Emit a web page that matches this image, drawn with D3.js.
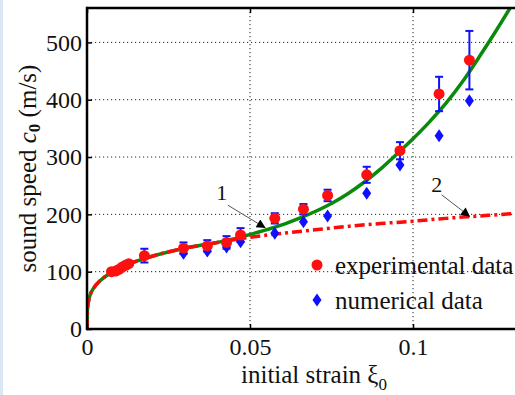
<!DOCTYPE html>
<html>
<head>
<meta charset="utf-8">
<script src="https://cdn.jsdelivr.net/npm/d3@7"></script>
<style>
  html, body { margin: 0; padding: 0; background: #fff; }
  svg { display: block; }
  text { font-family: "Liberation Serif", "Times New Roman", serif; fill: #111; }
</style>
</head>
<body>
<script>
// ---------------- data ----------------
const xTicks = [0, 0.05, 0.1];
const xTickLabels = ["0", "0.05", "0.1"];
const yTicks = [0, 100, 200, 300, 400, 500];
const yTickLabels = ["0", "100", "200", "300", "400", "500"];

// curve 2 (red dash-dot)
const model2X = [0, 0.0001, 0.0003, 0.0006, 0.001, 0.002, 0.004, 0.007, 0.01, 0.015, 0.02, 0.03, 0.04, 0.05, 0.06, 0.07, 0.08, 0.09, 0.10, 0.11, 0.12, 0.13, 0.14, 0.15];
const model2Y = [0, 30, 43, 52, 60, 71, 84, 97, 107, 118, 127, 141, 151, 160, 167, 173, 179, 184, 188, 193, 197, 201, 204, 207];

// curve 1 (green solid)
const model1X = [0, 0.0001, 0.0003, 0.0006, 0.001, 0.002, 0.004, 0.007, 0.01, 0.015, 0.02, 0.03, 0.04, 0.045, 0.05, 0.055, 0.06, 0.065, 0.07, 0.075, 0.08, 0.085, 0.09, 0.095, 0.10, 0.105, 0.11, 0.115, 0.12, 0.125, 0.13, 0.135];
const model1Y = [0, 30, 43, 52, 60, 71, 84, 97, 107, 118, 127, 141, 151, 157, 165, 173, 182, 193, 205, 219, 236, 256, 279, 305, 332, 361, 393, 430, 472, 516, 562, 610];

// experimental data (red circles, blue error bars)
const expX = [0.0075, 0.0088, 0.0098, 0.0108, 0.0118, 0.0128, 0.0176, 0.0296, 0.0369, 0.0428, 0.0471, 0.0576, 0.0664, 0.0738, 0.0858, 0.096, 0.108, 0.1173];
const expY = [100, 101, 104, 108, 111, 114, 128, 141, 145, 151, 164, 193, 209, 233, 269, 311, 410, 469];
const expErr = [0, 0, 0, 0, 0, 0, 12, 10, 10, 11, 12, 9, 9, 10, 14, 15, 30, 51];

// numerical data (blue diamonds)
const numX = [0.0296, 0.0369, 0.0428, 0.0471, 0.0576, 0.0664, 0.0738, 0.0858, 0.096, 0.108, 0.1173];
const numY = [132, 136, 143, 152, 167, 187, 197, 237, 286, 337, 398];

// annotations: label position and arrow (from -> to), data coordinates
const annLabels = ["1", "2"];
const annTextX = [0.0413, 0.1073];
const annTextY = [225, 239];
const annFromX = [0.0432, 0.1088];
const annFromY = [216, 234];
const annToX = [0.0548, 0.1175];
const annToY = [176, 196];

const legendLabels = ["experimental data", "numerical data"];

// ---------------- layout ----------------
const W = 515, H = 395;
const L = 87, T = 8, B = 329;

const x = d3.scaleLinear().domain([0, 0.15]).range([L, L + 0.15 * 3260]);
const y = d3.scaleLinear().domain([0, 560]).range([B, T]);
const R = x(0.15);

const svg = d3.select("body").append("svg").attr("width", W).attr("height", H);

svg.append("rect").attr("x", 0).attr("y", 0).attr("width", W).attr("height", H).attr("fill", "#fff");
svg.append("rect").attr("x", 0).attr("y", 0).attr("width", 3).attr("height", H).attr("fill", "#dce7f5");

svg.append("defs").append("clipPath").attr("id", "clip")
  .append("rect").attr("x", L).attr("y", T).attr("width", R - L).attr("height", B - T);

const defs = svg.select("defs");
defs.append("marker").attr("id", "arrow").attr("viewBox", "0 0 10 10")
  .attr("refX", 10).attr("refY", 5).attr("markerWidth", 12).attr("markerHeight", 9)
  .attr("markerUnits", "userSpaceOnUse").attr("orient", "auto")
  .append("path").attr("d", "M0,0 L10,5 L0,10 z").attr("fill", "#000");

// grid
const grid = svg.append("g");
grid.selectAll("line.h").data(yTicks.filter(d => d > 0)).enter().append("line")
  .attr("x1", L).attr("x2", R).attr("y1", d => y(d)).attr("y2", d => y(d))
  .attr("stroke", "#222").attr("stroke-width", 1).attr("stroke-dasharray", "1.2,2.8");
grid.selectAll("line.v").data(xTicks.filter(d => d > 0)).enter().append("line")
  .attr("x1", d => x(d)).attr("x2", d => x(d)).attr("y1", T).attr("y2", B)
  .attr("stroke", "#222").attr("stroke-width", 1).attr("stroke-dasharray", "1.2,2.8");

// curves
const plot = svg.append("g").attr("clip-path", "url(#clip)");
const line = d3.line().x(d => x(d[0])).y(d => y(d[1])).curve(d3.curveMonotoneX);
plot.append("path").datum(model1X.map((v, i) => [v, model1Y[i]]))
  .attr("d", line).attr("fill", "none").attr("stroke", "#0a8a0a").attr("stroke-width", 3.5);
plot.append("path").datum(model2X.map((v, i) => [v, model2Y[i]]))
  .attr("d", line).attr("fill", "none").attr("stroke", "#ff0a0a").attr("stroke-width", 3.5)
  .attr("stroke-dasharray", "10,4,3,4");

// error bars
const eb = plot.append("g").attr("stroke", "#1010ff").attr("stroke-width", 2);
expX.forEach((v, i) => {
  if (!expErr[i]) return;
  const cx = x(v), y1 = y(expY[i] + expErr[i]), y2 = y(expY[i] - expErr[i]);
  eb.append("line").attr("x1", cx).attr("x2", cx).attr("y1", y1).attr("y2", y2);
  eb.append("line").attr("x1", cx - 4).attr("x2", cx + 4).attr("y1", y1).attr("y2", y1);
  eb.append("line").attr("x1", cx - 4).attr("x2", cx + 4).attr("y1", y2).attr("y2", y2);
});

// diamonds
const diamond = (cx, cy) => `M${cx},${cy - 6.5} L${cx + 4.5},${cy} L${cx},${cy + 6.5} L${cx - 4.5},${cy} Z`;
plot.selectAll("path.num").data(numX.map((v, i) => [v, numY[i]])).enter().append("path")
  .attr("d", d => diamond(x(d[0]), y(d[1]))).attr("fill", "#1010ff");

// circles
plot.selectAll("circle.exp").data(expX.map((v, i) => [v, expY[i]])).enter().append("circle")
  .attr("cx", d => x(d[0])).attr("cy", d => y(d[1])).attr("r", 5.5).attr("fill", "#ff1010");

// annotations
annLabels.forEach((lab, i) => {
  svg.append("line").attr("x1", x(annFromX[i])).attr("y1", y(annFromY[i]))
    .attr("x2", x(annToX[i])).attr("y2", y(annToY[i]))
    .attr("stroke", "#555").attr("stroke-width", 1).attr("marker-end", "url(#arrow)");
  svg.append("text").attr("x", x(annTextX[i])).attr("y", y(annTextY[i]))
    .attr("text-anchor", "middle").attr("font-size", 22).text(lab);
});

// axes frame
const frame = svg.append("g").attr("stroke", "#000").attr("stroke-width", 2.5);
frame.append("line").attr("x1", L).attr("x2", R).attr("y1", B).attr("y2", B);
frame.append("line").attr("x1", L).attr("x2", R).attr("y1", T).attr("y2", T);
frame.append("line").attr("x1", L).attr("x2", L).attr("y1", T - 1.25).attr("y2", B + 1.25);

const xAxis = svg.append("g").attr("transform", `translate(0,${B})`)
  .call(d3.axisBottom(x).tickValues(xTicks).tickFormat((d, i) => xTickLabels[i]).tickSize(-5).tickPadding(9));
const xTop = svg.append("g").attr("transform", `translate(0,${T})`)
  .call(d3.axisTop(x).tickValues(xTicks).tickFormat("").tickSize(-5));
const yAxis = svg.append("g").attr("transform", `translate(${L},0)`)
  .call(d3.axisLeft(y).tickValues(yTicks).tickFormat((d, i) => yTickLabels[i]).tickSize(-5).tickPadding(5));
[xAxis, xTop, yAxis].forEach(g => {
  g.attr("font-family", null);
  g.select(".domain").remove();
  g.selectAll(".tick line").attr("stroke", "#000").attr("stroke-width", 1.5);
  g.selectAll(".tick text").attr("font-size", 24).attr("font-family", "Liberation Serif, serif").attr("fill", "#111");
});

// axis labels
const xl = svg.append("text").attr("x", 314).attr("y", 383).attr("text-anchor", "middle").attr("font-size", 25);
xl.append("tspan").text("initial strain ξ");
xl.append("tspan").attr("font-size", 17).attr("dy", 7).text("0");

const yl = svg.append("text").attr("transform", `translate(36,${(T + B) / 2}) rotate(-90)`)
  .attr("text-anchor", "middle").attr("font-size", 25);
yl.append("tspan").text("sound speed ");
yl.append("tspan").attr("font-style", "italic").text("c");
yl.append("tspan").attr("font-size", 17).attr("font-weight", "bold").attr("dy", 4).text("0");
yl.append("tspan").attr("dy", -4).text(" (m/s)");

// legend
const lg = svg.append("g");
lg.append("circle").attr("cx", 317).attr("cy", 265).attr("r", 5.5).attr("fill", "#ff1010");
lg.append("path").attr("d", diamond(317, 300)).attr("fill", "#1010ff");
lg.append("text").attr("x", 335).attr("y", 274).attr("font-size", 25).text(legendLabels[0]);
lg.append("text").attr("x", 335).attr("y", 309).attr("font-size", 25).text(legendLabels[1]);
</script>
</body>
</html>
